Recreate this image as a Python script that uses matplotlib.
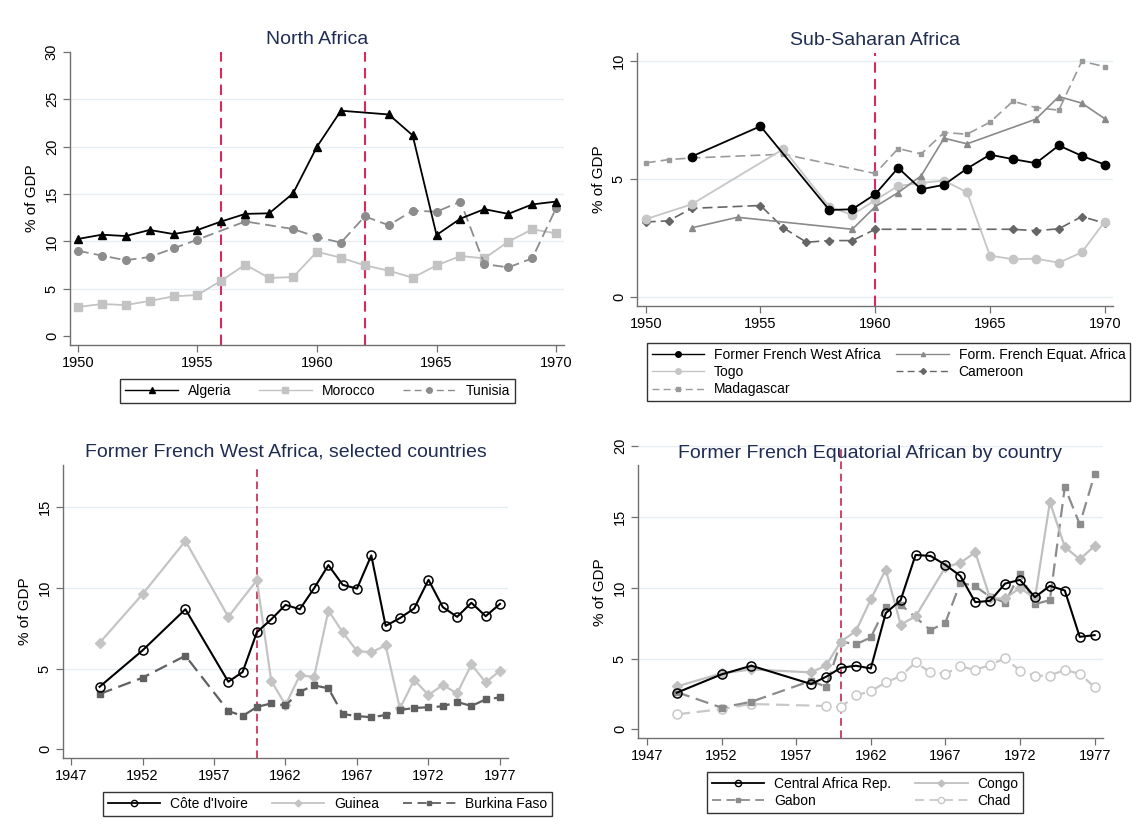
import matplotlib
matplotlib.use("Agg")
import matplotlib.pyplot as plt
from matplotlib.lines import Line2D

plt.rcParams['font.family'] = ['Liberation Sans', 'DejaVu Sans']

# ---------------- Data ----------------
# Panel 1: North Africa
alg_years = [1950,1951,1952,1953,1954,1955,1956,1957,1958,1959,1960,1961,1963,1964,1965,1966,1967,1968,1969,1970]
alg_vals  = [10.25,10.7,10.56,11.2,10.77,11.2,12.1,12.9,12.96,15.07,20.0,23.8,23.4,21.2,10.67,12.4,13.4,12.9,13.9,14.2]
mor_years = list(range(1950, 1971))
mor_vals  = [3.06,3.38,3.27,3.7,4.19,4.33,5.85,7.54,6.13,6.23,8.9,8.27,7.46,6.9,6.16,7.46,8.45,8.2,9.96,11.27,10.85]
tun_years = [1950,1951,1952,1953,1954,1955,1957,1959,1960,1961,1962,1963,1964,1965,1966,1967,1968,1969,1970]
tun_vals  = [9.0,8.5,8.0,8.35,9.26,10.18,12.1,11.3,10.46,9.86,12.64,11.7,13.24,13.13,14.2,7.6,7.25,8.2,13.5]
na_events = [1956, 1962]

# Panel 2: Sub-Saharan Africa
ffwa_years = [1952,1955,1958,1959,1960,1961,1962,1963,1964,1965,1966,1967,1968,1969,1970]
ffwa_vals  = [5.95,7.24,3.68,3.71,4.35,5.47,4.56,4.75,5.44,6.03,5.84,5.67,6.42,5.98,5.61]
ffea_years = [1952,1954,1959,1960,1961,1962,1963,1964,1967,1968,1969,1970]
ffea_vals  = [2.92,3.37,2.86,3.82,4.42,5.13,6.73,6.49,7.54,8.5,8.22,7.56]
togo_years = [1950,1952,1956,1958,1959,1960,1961,1962,1963,1964,1965,1966,1967,1968,1969,1970]
togo_vals  = [3.29,3.92,6.27,3.82,3.47,4.1,4.7,4.83,4.93,4.43,1.74,1.59,1.61,1.44,1.88,3.19]
cam_years  = [1950,1951,1952,1955,1956,1957,1958,1959,1960,1966,1967,1968,1969,1970]
cam_vals   = [3.17,3.22,3.75,3.87,2.92,2.31,2.38,2.38,2.86,2.86,2.8,2.88,3.4,3.12]
mad_years  = [1950,1951,1952,1956,1960,1961,1962,1963,1964,1965,1966,1967,1968,1969,1970]
mad_vals   = [5.68,5.82,5.89,6.05,5.23,6.29,6.06,6.97,6.9,7.41,8.3,8.03,7.92,10.0,9.77]
ssa_events = [1960]

# Panel 3: Former French West Africa, selected countries
civ_years = [1949,1952,1955,1958,1959] + list(range(1960, 1978))
civ_vals  = [3.87,6.12,8.67,4.18,4.78,7.25,8.04,8.94,8.67,9.97,11.4,10.18,9.95,12.0,7.64,8.12,8.72,10.49,8.8,8.2,9.07,8.24,9.0]
gui_years = [1949,1952,1955,1958] + list(range(1960, 1978))
gui_vals  = [6.59,9.6,12.9,8.2,10.47,4.24,2.74,4.57,4.49,8.59,7.25,6.08,6.0,6.43,2.53,4.29,3.36,3.98,3.46,5.25,4.14,4.86]
bfa_years = [1949,1952,1955,1958,1959] + list(range(1960, 1978))
bfa_vals  = [3.42,4.43,5.79,2.37,2.06,2.62,2.84,2.72,3.56,3.96,3.77,2.18,2.06,1.98,2.12,2.43,2.56,2.6,2.66,2.93,2.68,3.09,3.21]
fwa_events = [1960]

# Panel 4: Former French Equatorial Africa by country
car_years = [1949,1952,1954,1958,1959] + list(range(1960, 1978))
car_vals  = [2.59,3.88,4.49,3.2,3.71,4.35,4.49,4.3,8.2,9.12,12.31,12.24,11.61,10.83,8.98,9.07,10.29,10.55,9.33,10.13,9.8,6.53,6.65]
con_years = [1949,1952,1954,1958,1959,1960,1961,1962,1963,1964,1965,1967,1968,1969,1970,1971,1972,1973,1974,1975,1976,1977]
con_vals  = [3.03,3.95,4.23,4.02,4.51,6.2,6.93,9.17,11.28,7.4,7.97,11.45,11.75,12.5,9.24,9.24,9.99,9.24,16.05,12.88,12.0,12.95]
gab_years = [1949,1952,1954,1958,1959,1960,1961,1962,1963,1964,1966,1967,1968,1969,1970,1971,1972,1973,1974,1975,1976,1977]
gab_vals  = [2.63,1.53,1.95,3.43,3.0,6.2,6.0,6.49,8.65,8.81,7.0,7.54,10.36,10.1,9.35,8.95,11.0,8.84,9.12,17.1,14.48,18.0]
chd_years = [1949,1952,1954,1959] + list(range(1960, 1978))
chd_vals  = [1.06,1.43,1.79,1.65,1.57,2.4,2.7,3.31,3.76,4.72,4.02,3.92,4.44,4.2,4.54,5.03,4.14,3.78,3.8,4.2,3.92,2.98]
fea_events = [1960]

# ---------------- Figure ----------------
W, H = 1145, 832
fig = plt.figure(figsize=(W/100, H/100), dpi=100)

def box(x0, y0, x1, y1):
    return [x0/W, 1-y1/H, (x1-x0)/W, (y1-y0)/H]

TITLE_C = '#1f2d52'
GRID_C = '#e6eef1'
SPINE_C = '#707070'
LEG_FS = 10

def style(ax, xlim, ylim, xticks, yticks, grid_vals, title, title_y, ylabel=True):
    ax.set_xlim(*xlim)
    ax.set_ylim(*ylim)
    for s in ['top', 'right']:
        ax.spines[s].set_visible(False)
    for s in ['left', 'bottom']:
        ax.spines[s].set_color(SPINE_C)
        ax.spines[s].set_linewidth(1.0)
    ax.set_xticks(xticks)
    ax.set_xticklabels([str(t) for t in xticks], fontsize=10.5)
    ax.set_yticks(yticks)
    ax.set_yticklabels([str(t) for t in yticks], fontsize=10.5, rotation=90, va='center')
    ax.tick_params(direction='out', length=5, color=SPINE_C, width=0.9, pad=3)
    for g in grid_vals:
        ax.axhline(g, color=GRID_C, lw=1.0, zorder=0)
    if ylabel:
        ax.set_ylabel('% of GDP', fontsize=11, labelpad=4)
    ax.text(0.5, title_y, title, transform=ax.transAxes, ha='center', va='center',
            fontsize=14, color=TITLE_C)

def vlines(ax, years, color, lw, dashes):
    for y in years:
        ax.axvline(y, color=color, lw=lw, dashes=dashes, zorder=1)

def legend(handles, labels, cx, cy, ncol, colsp, **kw):
    return fig.legend(handles, labels, loc='center', bbox_to_anchor=(cx/W, 1-cy/H),
                      ncol=ncol, fontsize=LEG_FS, frameon=True, fancybox=False,
                      edgecolor='#333333', framealpha=1, handlelength=3.8,
                      columnspacing=colsp, handletextpad=0.7, borderpad=0.35,
                      labelspacing=0.25, **kw)

# ---- Panel 1 ----
ax1 = fig.add_axes(box(70, 52, 564, 345))
style(ax1, (1949.67, 1970.33), (-0.95, 30), [1950,1955,1960,1965,1970],
      [0,5,10,15,20,25,30], [5,10,15,20,25], 'North Africa', 1.042)
vlines(ax1, na_events, '#d92b5b', 1.5, (5, 3))
ax1.plot(mor_years, mor_vals, color='#c3c3c3', lw=1.3, marker='s', ms=6, mec='#c3c3c3', zorder=3)
ax1.plot(tun_years, tun_vals, color='#8c8c8c', lw=1.3, marker='o', ms=5.5, dashes=(6, 3), zorder=3)
ax1.plot(alg_years, alg_vals, color='black', lw=1.3, marker='^', ms=6, zorder=4)
h1 = [Line2D([], [], color='black', lw=1.0, marker='^', ms=4),
      Line2D([], [], color='#c3c3c3', lw=1.0, marker='s', ms=4),
      Line2D([], [], color='#8c8c8c', lw=1.0, marker='o', ms=4, dashes=(5, 3))]
legend(h1, ['Algeria', 'Morocco', 'Tunisia'], (125+510)/2, (378+404)/2, 3, 2.0)

# ---- Panel 2 ----
ax2 = fig.add_axes(box(637, 53, 1113, 306))
style(ax2, (1949.62, 1970.36), (-0.4, 10.35), [1950,1955,1960,1965,1970],
      [0,5,10], [0,5,10], 'Sub-Saharan Africa', 1.05)
vlines(ax2, ssa_events, '#d92b5b', 1.5, (5, 3))
ax2.plot(mad_years, mad_vals, color='#9a9a9a', lw=1.2, marker='s', ms=3.5, dashes=(6, 3), zorder=3)
ax2.plot(cam_years, cam_vals, color='#666666', lw=1.2, marker='D', ms=4, dashes=(6, 3), zorder=3)
ax2.plot(togo_years, togo_vals, color='#c6c6c6', lw=1.3, marker='o', ms=6, zorder=3)
ax2.plot(ffea_years, ffea_vals, color='#8a8a8a', lw=1.2, marker='^', ms=4, zorder=3)
ax2.plot(ffwa_years, ffwa_vals, color='black', lw=1.3, marker='o', ms=6, zorder=4)
h2 = [Line2D([], [], color='black', lw=1.0, marker='o', ms=4),
      Line2D([], [], color='#c6c6c6', lw=1.0, marker='o', ms=4),
      Line2D([], [], color='#9a9a9a', lw=1.0, marker='s', ms=3, dashes=(5, 3)),
      Line2D([], [], color='#8a8a8a', lw=1.0, marker='^', ms=3),
      Line2D([], [], color='#666666', lw=1.0, marker='D', ms=3, dashes=(5, 3))]
l2 = ['Former French West Africa', 'Togo', 'Madagascar', 'Form. French Equat. Africa', 'Cameroon']
legend(h2, l2, (644+1133)/2, (340+404)/2, 2, 1.1)

# ---- Panel 3 ----
ax3 = fig.add_axes(box(63, 465, 508, 758))
style(ax3, (1946.44, 1977.56), (-0.54, 17.6), [1947,1952,1957,1962,1967,1972,1977],
      [0,5,10,15], [5,10,15], 'Former French West Africa, selected countries', 1.045)
vlines(ax3, fwa_events, '#c0143c', 1.1, (5, 3))
ax3.plot(gui_years, gui_vals, color='#c4c4c4', lw=1.6, marker='D', ms=5, zorder=3)
ax3.plot(bfa_years, bfa_vals, color='#606060', lw=1.6, marker='s', ms=5, dashes=(6, 3), zorder=3)
ax3.plot(civ_years, civ_vals, color='black', lw=1.5, marker='o', ms=6.5, mfc='none', mew=1.1, zorder=4)
h3 = [Line2D([], [], color='black', lw=1.3, marker='o', ms=4.5, mfc='none', mew=1.0),
      Line2D([], [], color='#c4c4c4', lw=1.3, marker='D', ms=3.5),
      Line2D([], [], color='#606060', lw=1.3, marker='s', ms=3.5, dashes=(5, 3))]
legend(h3, ["Côte d'Ivoire", 'Guinea', 'Burkina Faso'], (90+565)/2, (790+818)/2, 3, 1.7)

# ---- Panel 4 ----
ax4 = fig.add_axes(box(638, 446, 1103, 738))
style(ax4, (1946.4, 1977.56), (-0.61, 20.0), [1947,1952,1957,1962,1967,1972,1977],
      [0,5,10,15,20], [5,10,15,20], 'Former French Equatorial African by country', 0.975)
ax4.spines['left'].set_bounds(-0.61, 18.64)
vlines(ax4, fea_events, '#c0143c', 1.1, (5, 3))
ax4.plot(chd_years, chd_vals, color='#c8c8c8', lw=1.6, marker='o', ms=6.5, mfc='white', mew=1.1, dashes=(6, 3), zorder=3)
ax4.plot(gab_years, gab_vals, color='#8c8c8c', lw=1.6, marker='s', ms=5, dashes=(6, 3), zorder=3)
ax4.plot(con_years, con_vals, color='#c0c0c0', lw=1.6, marker='D', ms=5, zorder=3)
ax4.plot(car_years, car_vals, color='black', lw=1.5, marker='o', ms=6.5, mfc='none', mew=1.1, zorder=4)
h4 = [Line2D([], [], color='black', lw=1.3, marker='o', ms=4.5, mfc='none', mew=1.0),
      Line2D([], [], color='#8c8c8c', lw=1.3, marker='s', ms=3.5, dashes=(5, 3)),
      Line2D([], [], color='#c0c0c0', lw=1.3, marker='D', ms=3.5),
      Line2D([], [], color='#c8c8c8', lw=1.3, marker='o', ms=4.5, mfc='white', mew=1.0, dashes=(5, 3))]
legend(h4, ['Central Africa Rep.', 'Gabon', 'Congo', 'Chad'], (714+1016)/2, (770+815)/2, 2, 1.7)

fig.savefig('out.png', dpi=100)
